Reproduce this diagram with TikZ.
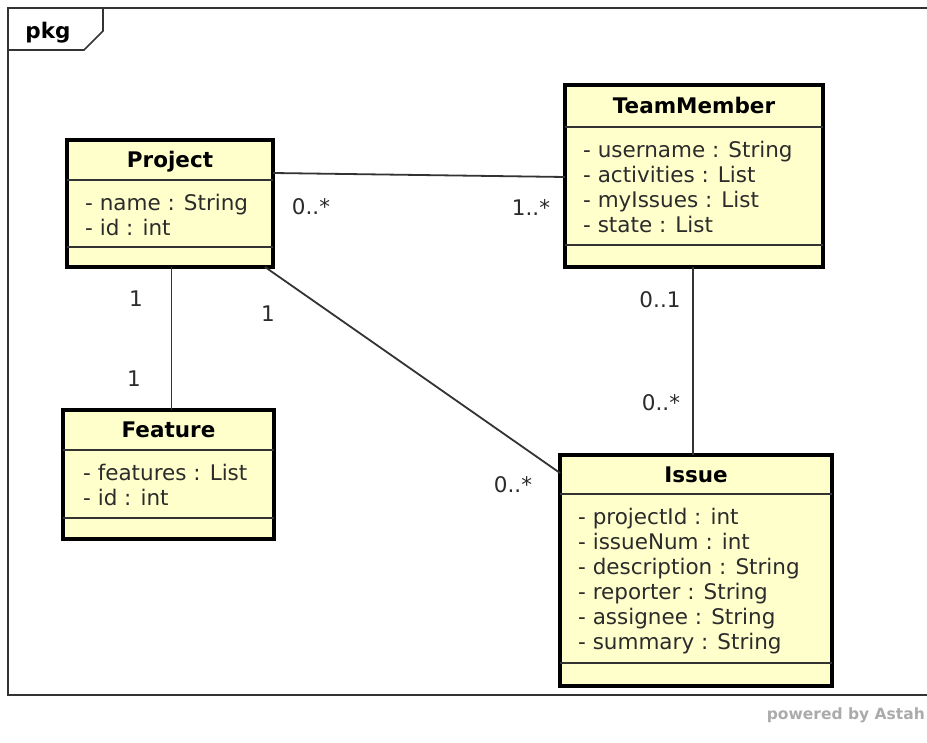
\documentclass[tikz,border=0pt]{standalone}
\usepackage{fontspec}
\setmainfont{DejaVu Sans}
\usetikzlibrary{positioning,calc}

\definecolor{classfill}{HTML}{FFFFCC}
\definecolor{linegray}{HTML}{333333}
\definecolor{textgray}{HTML}{2B2B2B}
\definecolor{astahgray}{HTML}{ABABAB}

\tikzset{
  frame/.style={linegray, line width=1.6pt},
  classbox/.style={draw=black, line width=3.5pt, fill=classfill, inner sep=0pt, outer sep=0pt, anchor=north west},
  classname/.style={font=\fontsize{21.5}{25}\selectfont\bfseries, anchor=base, inner sep=0pt},
  attrs/.style={font=\fontsize{21.5}{25}\selectfont, text=textgray, align=left, anchor=north west, inner sep=0pt},
  divider/.style={linegray, line width=1.8pt},
  assoc/.style={linegray, line width=1.8pt},
  mult/.style={font=\fontsize{21.5}{25}\selectfont, text=textgray, anchor=base, inner sep=0pt},
}

\begin{document}
\begin{tikzpicture}[x=1pt, y=-1pt]
    \useasboundingbox (0,0) rectangle (927,743);
    \fill[white] (0,0) rectangle (927,743);

    % package frame with its tab
    \draw[frame] (940,8) -- (8,8) -- (8,695) -- (940,695);
    \draw[frame] (8,50) -- (84,50) -- (103,31) -- (103,8);
    \node[font=\fontsize{21.5}{25}\selectfont\bfseries, inner sep=0pt] (pkg) at (48,33) {pkg};

    % Project
    \node[classbox, minimum width=206pt, minimum height=127pt] (proj) at (67,140) {};
    \draw[divider] ([yshift=-40pt]proj.north west) -- ([yshift=-40pt]proj.north east);
    \draw[divider] ([yshift=-107pt]proj.north west) -- ([yshift=-107pt]proj.north east);
    \node[classname] (proj-title) at ([yshift=-28pt]proj.north) {Project};
    \node[attrs] (proj-attr) at ([shift={(18pt,-52.5pt)}]proj.north west)
        {\strut- name : String\\- id : int};

    % TeamMember
    \node[classbox, minimum width=258pt, minimum height=182pt] (tm) at (565,85) {};
    \draw[divider] ([yshift=-42pt]tm.north west) -- ([yshift=-42pt]tm.north east);
    \draw[divider] ([yshift=-160pt]tm.north west) -- ([yshift=-160pt]tm.north east);
    \node[classname] (tm-title) at ([yshift=-29pt]tm.north) {TeamMember};
    \node[attrs] (tm-attr) at ([shift={(18pt,-54.5pt)}]tm.north west)
        {\strut- username : String\\- activities : List\\- myIssues : List\\- state : List};

    % Feature
    \node[classbox, minimum width=211pt, minimum height=129pt] (feat) at (63,410) {};
    \draw[divider] ([yshift=-40pt]feat.north west) -- ([yshift=-40pt]feat.north east);
    \draw[divider] ([yshift=-108pt]feat.north west) -- ([yshift=-108pt]feat.north east);
    \node[classname] (feat-title) at ([yshift=-28pt]feat.north) {Feature};
    \node[attrs] (feat-attr) at ([shift={(20pt,-52.5pt)}]feat.north west)
        {\strut- features : List\\- id : int};

    % Issue
    \node[classbox, minimum width=272pt, minimum height=231pt] (issue) at (560,455) {};
    \draw[divider] ([yshift=-39pt]issue.north west) -- ([yshift=-39pt]issue.north east);
    \draw[divider] ([yshift=-208pt]issue.north west) -- ([yshift=-208pt]issue.north east);
    \node[classname] (issue-title) at ([yshift=-27.5pt]issue.north) {Issue};
    \node[attrs] (issue-attr) at ([shift={(18pt,-51.5pt)}]issue.north west)
        {\strut- projectId : int\\- issueNum : int\\- description : String\\- reporter : String\\- assignee : String\\- summary : String};

    % associations
    \draw[assoc] ([yshift=-33pt]proj.north east) -- ([yshift=-92pt]tm.north west);
    \draw[assoc] ([xshift=1.5pt]proj.south) -- ([xshift=1.5pt]proj.south |- feat.north);
    \draw[assoc] ([xshift=-8pt]proj.south east) -- ([yshift=-18pt]issue.north west);
    \draw[assoc] ([xshift=-1pt]tm.south) -- ([xshift=-1pt]tm.south |- issue.north);

    % multiplicities
    \node[mult] (m-proj-tm) at (311,215) {0..*};
    \node[mult] (m-tm-proj) at (531,216) {1..*};
    \node[mult] (m-proj-feat) at (136,307) {1};
    \node[mult] (m-feat-proj) at (134,387) {1};
    \node[mult] (m-proj-issue) at (268,322) {1};
    \node[mult] (m-issue-proj) at (513,492) {0..*};
    \node[mult] (m-tm-issue) at (660,308) {0..1};
    \node[mult] (m-issue-tm) at (661,410) {0..*};

    \node[font=\fontsize{15.5}{18}\selectfont\bfseries, text=astahgray, anchor=base east, inner sep=0pt] (astah) at (925,719) {powered by Astah};
\end{tikzpicture}
\end{document}
